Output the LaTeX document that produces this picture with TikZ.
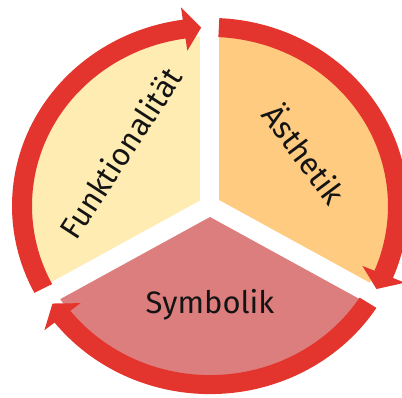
\documentclass[tikz,border=0pt]{standalone}
\usepackage{fontspec}
\setmainfont{Fira Sans}
\definecolor{ringred}{HTML}{E3352D}
\definecolor{funkcol}{HTML}{FFECB3}
\definecolor{aestcol}{HTML}{FFCB80}
\definecolor{symbcol}{HTML}{DD7E7E}
\definecolor{txtcol}{HTML}{141414}
\tikzset{
  lbl/.style={font=\fontsize{31}{36}\selectfont, text=txtcol, inner sep=0pt},
  gapline/.style={white, line width=19pt},
}
% arrow: tail angle #1, head base angle #2, tip angle #3
\newcommand{\ringarrow}[4]{%
  \fill[ringred] (#1:178) -- (#1:198) arc[start angle=#1, end angle=#2, radius=198]
    -- (#2:211) -- (#3:188) -- (#2:165) -- (#2:178)
    arc[start angle=#2, end angle=#1, radius=178] -- cycle;
  \coordinate (#4) at (#3:188);
}
\begin{document}
\begin{tikzpicture}[x=1pt, y=1pt]
\useasboundingbox (-210,-191) rectangle (192,206);
\begin{scope}[yscale=0.95]
  \coordinate (c) at (0,0);
  % wedges
  \fill[funkcol] (c) -- (90:179) arc[start angle=90, end angle=210, radius=179] -- cycle;
  \fill[aestcol] (c) -- (-30:179) arc[start angle=-30, end angle=90, radius=179] -- cycle;
  \fill[symbcol] (c) -- (210:179) arc[start angle=210, end angle=330, radius=179] -- cycle;
  % gaps
  \coordinate (g1) at (90:215);
  \coordinate (g2) at (210:215);
  \coordinate (g3) at (330:215);
  \draw[gapline] (c) -- (g1);
  \draw[gapline] (c) -- (g2);
  \draw[gapline] (c) -- (g3);
  \fill[white] (c) circle[radius=10];
  % arrows
  \ringarrow{207.5}{97.9}{92.7}{t1}
  \ringarrow{87.3}{-22.5}{-27.7}{t2}
  \ringarrow{-32.8}{-141.7}{-146.9}{t3}
\end{scope}
\node[lbl, rotate=57] (funk) at (-90,53) {Funktionalität};
\node[lbl, rotate=-53] (aest) at (96,53) {Ästhetik};
\node[lbl, anchor=base] (symb) at (0,-107) {Symbolik};
\end{tikzpicture}
\end{document}
